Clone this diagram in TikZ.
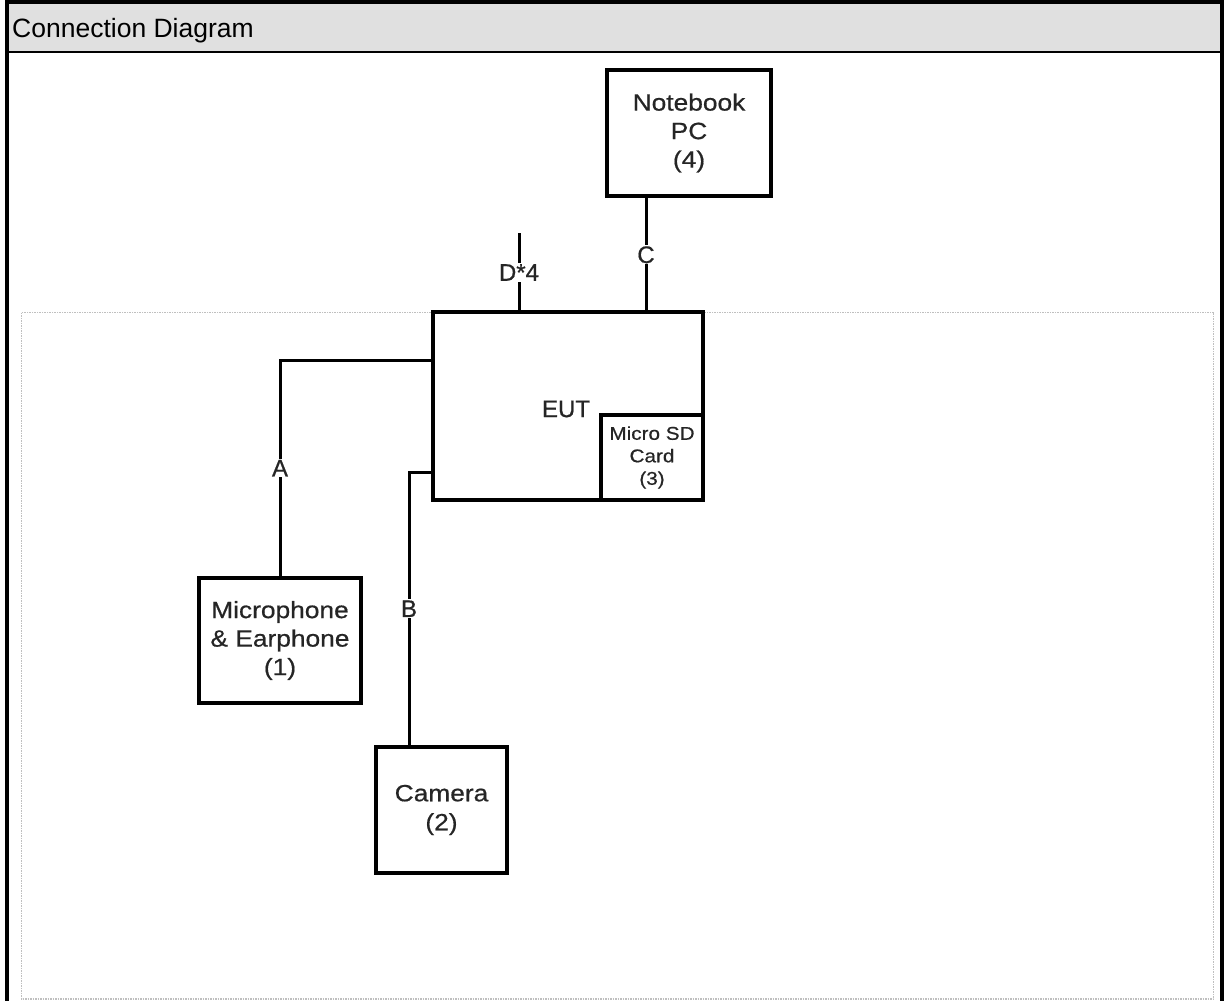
\documentclass[tikz,border=0pt]{standalone}
\usepackage{fontspec}
\setmainfont{Liberation Sans}
\newfontfamily\boxfont[FakeStretch=1.12,FakeBold=0.6]{Liberation Sans}
\newfontfamily\lblfont[FakeBold=0.6]{Liberation Sans}
\usepackage{xcolor}
\definecolor{headgray}{HTML}{E0E0E0}
\definecolor{txtgray}{HTML}{252525}

\begin{document}
\begin{tikzpicture}[x=1pt,y=-1pt,
        box/.style={draw,line width=3.2pt,align=center,text=txtgray,font=\boxfont\fontsize{23.5}{28.5}\selectfont,inner sep=0pt},
        lbl/.style={fill=white,text=txtgray,font=\lblfont\fontsize{24}{26}\selectfont,inner sep=1pt},
        wire/.style={line width=3pt}]
        \useasboundingbox (0,0) rectangle (1226,1001);
        % frame and header
        \fill[headgray] (7,2) rectangle (1221.5,52);
        \draw[line width=2pt] (7,52) -- (1221.5,52);
        \draw[line width=4pt] (7,1001) -- (7,1.8) -- (1221.5,1.8) -- (1221.5,1001);
        \node[anchor=base west,inner sep=0pt,font=\fontsize{26.5}{30}\selectfont] (title) at (12,37.5) {Connection Diagram};
        % dotted area
        \draw[gray!50,line width=1.8pt,dash pattern=on 1.5pt off 1pt] (21.5,312.5) rectangle (1213.5,999);
        % units
        \node[box,minimum width=164,minimum height=126] (pc) at (689,133) {Notebook\\PC\\(4)};
        \node[box,minimum width=270,minimum height=188] (eut) at (568,406) {};
        \node[text=txtgray,font=\lblfont\fontsize{24}{26}\selectfont] (euttxt) at (566,409) {EUT};
        \node[box,anchor=south east,minimum width=102,minimum height=85,font=\boxfont\fontsize{18.5}{22.5}\selectfont] (sd) at (eut.south east) {Micro SD\\Card\\(3)};
        \node[box,minimum width=162,minimum height=125] (mic) at (280,640.5) {Microphone\\\& Earphone\\(1)};
        \node[box,minimum width=131,minimum height=126,font=\boxfont\fontsize{23.5}{29}\selectfont] (cam) at (441.5,810) {Camera\\(2)};
        % cable ends
        \coordinate (a) at (433,360);
        \coordinate (b) at (433,472);
        \coordinate (c) at (646,312);
        \coordinate (d) at (519,312);
        \coordinate (dend) at (519,233);
        % cables
        \draw[wire] (mic.north) -- node[lbl] {A} (mic.north |- a) -- (a);
        \draw[wire] (cam.north -| 409,0) -- node[lbl] {B} (409,472) -- (b);
        \draw[wire] (pc.south -| c) -- node[lbl] {C} (c);
        \draw[wire] (dend) -- node[lbl] {D*4} (d);
    \end{tikzpicture}
\end{document}
